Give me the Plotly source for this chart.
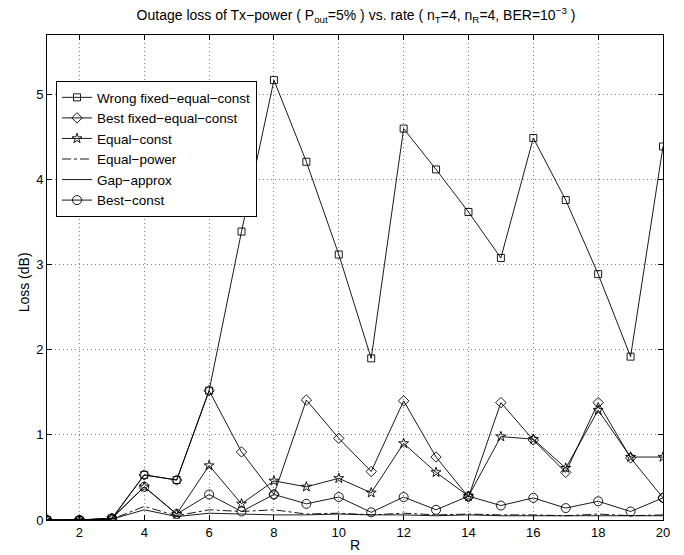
import plotly.graph_objects as go

R = list(range(1, 21))
wrong_fixed = [0, 0, 0.02, 0.53, 0.47, 1.52, 3.39, 5.17, 4.21, 3.12, 1.90, 4.60, 4.12, 3.62, 3.08, 4.49, 3.76, 2.89, 1.92, 4.39]
best_fixed = [0, 0, 0.01, 0.53, 0.47, 1.52, 0.80, 0.30, 1.41, 0.96, 0.57, 1.40, 0.74, 0.27, 1.38, 0.94, 0.56, 1.38, 0.73, 0.26]
equal_const = [0, 0, 0.02, 0.39, 0.07, 0.64, 0.19, 0.46, 0.39, 0.49, 0.32, 0.90, 0.56, 0.28, 0.98, 0.95, 0.61, 1.29, 0.74, 0.74]
equal_power = [0, 0, 0.01, 0.16, 0.05, 0.12, 0.10, 0.12, 0.07, 0.08, 0.06, 0.08, 0.06, 0.07, 0.06, 0.06, 0.05, 0.07, 0.05, 0.06]
gap_approx = [0, 0, 0.01, 0.12, 0.04, 0.08, 0.07, 0.06, 0.06, 0.07, 0.06, 0.06, 0.05, 0.06, 0.05, 0.05, 0.05, 0.05, 0.05, 0.05]
best_const = [0, 0, 0.02, 0.39, 0.07, 0.30, 0.10, 0.30, 0.19, 0.27, 0.09, 0.27, 0.12, 0.28, 0.17, 0.26, 0.14, 0.22, 0.10, 0.26]

x_ticks = [2, 4, 6, 8, 10, 12, 14, 16, 18, 20]
y_ticks = [0, 1, 2, 3, 4, 5]

FONT = "Liberation Sans, Arial, Helvetica, sans-serif"
LW = 0.9

fig = go.Figure()

def add(name, y, symbol=None, size=8, dash="solid"):
    if symbol:
        fig.add_trace(go.Scatter(
            x=R, y=y, name=name, mode="lines+markers",
            line=dict(color="black", width=LW, dash=dash),
            marker=dict(symbol=symbol, size=size, color="black",
                        line=dict(color="black", width=0.9))))
    else:
        fig.add_trace(go.Scatter(
            x=R, y=y, name=name, mode="lines",
            line=dict(color="black", width=LW, dash=dash)))

add("Wrong fixed−equal−const", wrong_fixed, "square-open", 7)
add("Best fixed−equal−const", best_fixed, "diamond-open", 8)
add("Equal−const", equal_const, "star-open", 7.5)
add("Equal−power", equal_power, None, dash="dashdot")
add("Gap−approx", gap_approx, None)
add("Best−const", best_const, "circle-open", 9)

axis_common = dict(
    showline=True, linecolor="black", linewidth=1, mirror="ticks",
    ticks="inside", ticklen=5, tickcolor="black",
    showgrid=True, gridcolor="rgba(0,0,0,0.5)", gridwidth=1, griddash="1px,3px",
    zeroline=False, tickfont=dict(family=FONT, size=13, color="black"),
)

fig.update_layout(
    width=684, height=555,
    margin=dict(l=47, r=21, t=35, b=35),
    paper_bgcolor="white", plot_bgcolor="white",
    font=dict(family=FONT, color="black"),
    title=dict(
        text="Outage loss of Tx−power ( P<sub>out</sub>=5% ) vs. rate ( n<sub>T</sub>=4, n<sub>R</sub>=4, BER=10<sup>−3</sup> )",
        x=356 / 684, xanchor="center",
        y=1 - 15 / 555, yanchor="middle",
        font=dict(family=FONT, size=14, color="black"),
    ),
    xaxis=dict(range=[1, 20], tickvals=x_ticks, ticktext=[str(v) for v in x_ticks], **axis_common),
    yaxis=dict(range=[0, 5.7], tickvals=y_ticks, ticktext=[str(v) for v in y_ticks], **axis_common),
    legend=dict(
        x=9 / 616, y=0.905, xanchor="left", yanchor="top",
        bgcolor="white", bordercolor="black", borderwidth=1,
        font=dict(family=FONT, size=13.5, color="black"),
        tracegroupgap=0, itemwidth=30,
    ),
    showlegend=True,
    annotations=[
        dict(text="R", xref="paper", yref="paper", x=0.5, y=(520 - 545) / 485,
             showarrow=False, xanchor="center", yanchor="middle",
             font=dict(family=FONT, size=14, color="black")),
        dict(text="Loss (dB)", xref="paper", yref="paper", x=(24 - 47) / 616, y=0.49,
             showarrow=False, xanchor="center", yanchor="middle", textangle=-90,
             font=dict(family=FONT, size=14, color="black")),
    ],
)

fig.write_html("out.html")
